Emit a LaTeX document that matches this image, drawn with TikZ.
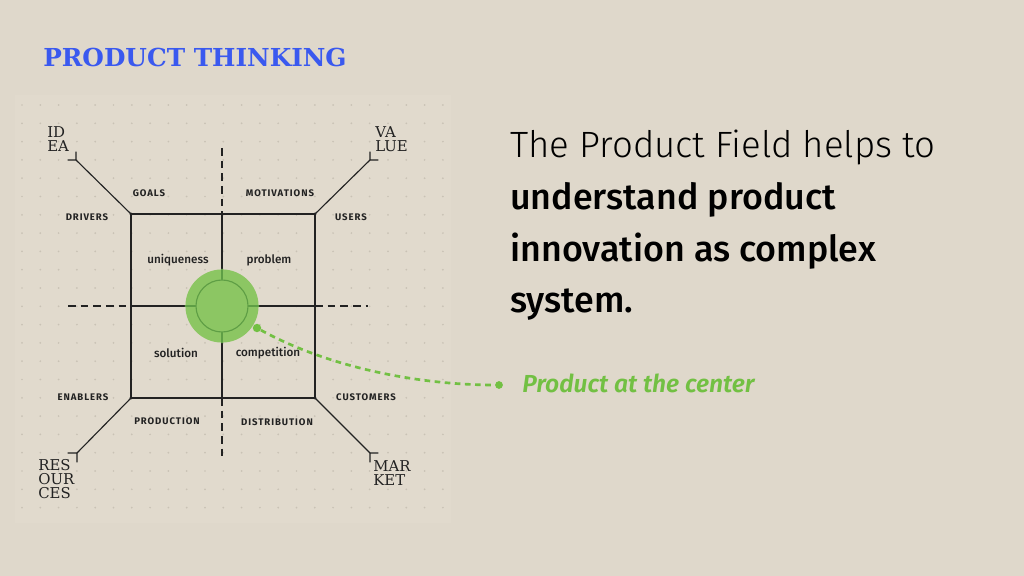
\documentclass[tikz,border=0pt]{standalone}
\usepackage{fontspec}
\setmainfont{Fira Sans}
\newfontfamily\titlefont{DejaVu Serif}
\newfontfamily\lightfont{Fira Sans Light}
\newfontfamily\claimfont{Fira Sans Medium}
\newfontfamily\fieldfont{Fira Sans Medium}
\newfontfamily\noteitfont{Fira Sans SemiBold Italic}
\newfontfamily\capsfont[LetterSpace=10]{Fira Sans Bold}
\newfontfamily\cornerfont{DejaVu Serif}
\definecolor{paper}{HTML}{DFD8CB}
\definecolor{panel}{HTML}{E1DACD}
\definecolor{griddot}{HTML}{C9C2B5}
\definecolor{ink}{HTML}{222222}
\definecolor{titleblue}{HTML}{3A59EF}
\definecolor{ringgreen}{HTML}{8CC663}
\definecolor{coregreen}{HTML}{5E9E45}
\definecolor{pointgreen}{HTML}{72C043}
\begin{document}
\begin{tikzpicture}[x=0.025cm, y=-0.025cm, line join=round, line cap=round,
	sketch/.style={line width=0.8pt, draw=ink},
	dashext/.style={sketch, line cap=butt, dash pattern=on 5.5pt off 3.5pt},
	caplabel/.style={font=\capsfont\fontsize{6.8}{7}\selectfont, text=ink},
	fieldlabel/.style={font=\fieldfont\fontsize{8.3}{9}\selectfont, text=ink},
	cornerlabel/.style={font=\cornerfont\fontsize{10.6}{10}\selectfont, anchor=base west, inner sep=0pt, text=ink},
	claim/.style={anchor=base west, inner sep=0pt, font=\claimfont\fontsize{25.5}{30}\selectfont, text=black},
	pointer/.style={draw=pointgreen, line width=1.9pt, line cap=butt, dash pattern=on 4pt off 3.2pt}]
	\fill[paper] (0,0) rectangle (1024,576);
	\useasboundingbox (0,0) rectangle (1024,576);
	\fill[panel] (15,95) rectangle (451,523);
	\foreach \i in {0,...,23}\foreach \j in {0,...,22}\fill[griddot] (22+18.3*\i,105+18.3*\j) circle (0.7pt);
	\path
	(131,214) coordinate (TL)
	(315,214) coordinate (TR)
	(131,398) coordinate (BL)
	(315,398) coordinate (BR)
	(222,214) coordinate (T)
	(222,398) coordinate (B)
	(131,306) coordinate (L)
	(315,306) coordinate (R)
	(222,306) coordinate (C)
	(222,148) coordinate (Tx)
	(222,456) coordinate (Bx)
	(68,306) coordinate (Lx)
	(368,306) coordinate (Rx)
	(76,160) coordinate (ID)
	(370,160) coordinate (VA)
	(77,453) coordinate (RE)
	(370,453) coordinate (MA)
	;
	\draw[sketch] (TL)--(TR)--(BR)--(BL)--cycle (T)--(B) (L)--(R);
	\draw[dashext] (Tx)--(T) (B)--(Bx) (Lx)--(L) (R)--(Rx);
	\draw[sketch] (TL)--(ID) (ID)++(-8,0)--(ID)--++(0,-8);
	\draw[sketch] (TR)--(VA) (VA)++(8,0)--(VA)--++(0,-8);
	\draw[sketch] (BL)--(RE) (RE)++(-9,0)--(RE)--++(0,9);
	\draw[sketch] (BR)--(MA) (MA)++(8,0)--(MA)--++(0,9);
	\foreach \p in {TL,TR,BL,BR}\fill[ink] (\p) circle (1.1pt);
	\node[circle, fill=ringgreen, minimum size=52pt, inner sep=0pt] (ring) at (C) {};
	\node[circle, draw=coregreen, line width=0.8pt, minimum size=37pt, inner sep=0pt] (core) at (C) {};
	\draw[coregreen, line width=0.8pt] (ring.north)--(core.north) (ring.south)--(core.south) (ring.east)--(core.east) (ring.west)--(core.west);
	\foreach \n/\x/\y/\t in {goals/149/193/GOALS, motivations/280/193/MOTIVATIONS, drivers/87/217/DRIVERS, users/351/217/USERS, enablers/83/397/ENABLERS, customers/366/397/CUSTOMERS, production/167/421/PRODUCTION, distribution/277/422/DISTRIBUTION}
		\node[caplabel] (\n) at (\x,\y) {\t};
	\foreach \n/\x/\y/\t in {uniqueness/178/260/uniqueness, problem/269/260/problem, solution/176/353/solution, competition/268/353/competition}
		\node[fieldlabel] (\n) at (\x,\y) {\t};
	\foreach \n/\x/\y/\t in {id/47/138/ID, ea/47/152/EA, va/375/138/VA, lue/375/152/LUE, res/38/470/RES, our/38/484/OUR, ces/38/498/CES, mar/373/471/MAR, ket/373/485/KET}
		\node[cornerlabel] (\n) at (\x,\y) {\t};
	\node[anchor=base west, inner sep=0pt, font=\titlefont\bfseries\fontsize{17.6}{20}\selectfont, text=titleblue] (title) at (43,67) {PRODUCT THINKING};
	\node[claim, font=\lightfont\fontsize{26}{30}\selectfont] (line1) at (510,158) {The Product Field helps to};
	\foreach \n/\y/\t in {line2/210/understand product, line3/262/innovation as complex, line4/313/system.}
		\node[claim] (\n) at (510,\y) {\t};
	\node[circle, fill=pointgreen, minimum size=6pt, inner sep=0pt] (pin) at (257,328) {};
	\node[circle, fill=pointgreen, minimum size=5.5pt, inner sep=0pt] (tip) at (499,385) {};
	\draw[pointer] (pin) .. controls (330,368) and (420,385) .. (tip);
	\node[anchor=base west, inner sep=0pt, font=\noteitfont\fontsize{17.5}{20}\selectfont, text=pointgreen] (note) at (522,392) {Product at the center};
\end{tikzpicture}
\end{document}
